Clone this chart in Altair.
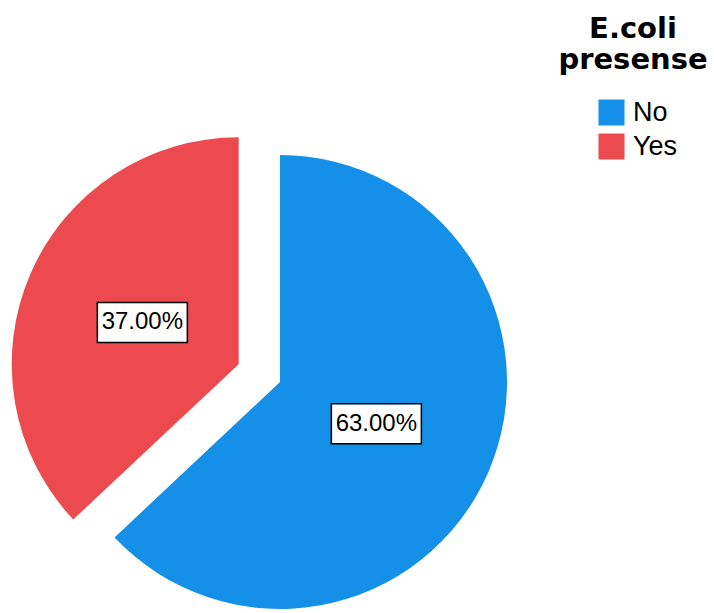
import json
import altair as alt
import pandas as pd

# ---- data ----
categories = ["No", "Yes"]
percents = [63.0, 37.0]
colors = ["#1490e8", "#ec4a4f"]
exploded = ["Yes"]
legend_title = ["E.coli", "presense"]

# ---- layout / style ----
W, H = 714, 613
CX, CY = 280, 382
R = 227
EXPLODE = 45
LABEL_R = 105
BOX_W, BOX_H = 90, 40

df = pd.DataFrame({"cat": categories, "pct": percents})

base = (
    alt.Chart(df)
    .transform_joinaggregate(total="sum(pct)")
    .transform_window(
        cum="sum(pct)",
        sort=[alt.SortField("cat", order="ascending")],
        frame=[None, 0],
    )
    .transform_calculate(
        a1="datum.cum / datum.total * 2 * PI",
        a0="(datum.cum - datum.pct) / datum.total * 2 * PI",
    )
    .transform_calculate(
        mid="(datum.a0 + datum.a1) / 2",
        ex=f"indexof({json.dumps(exploded)}, datum.cat) >= 0 ? {EXPLODE} : 0",
    )
    .transform_calculate(
        cx=f"{CX} + datum.ex * sin(datum.mid)",
        cy=f"{CY} - datum.ex * cos(datum.mid)",
    )
    .transform_calculate(
        lx=f"datum.cx + {LABEL_R} * sin(datum.mid)",
        ly=f"datum.cy - {LABEL_R} * cos(datum.mid)",
        label="format(datum.pct, '.2f') + '%'",
    )
    .transform_calculate(
        bx0=f"datum.lx - {BOX_W / 2}",
        bx1=f"datum.lx + {BOX_W / 2}",
        by0=f"datum.ly - {BOX_H / 2}",
        by1=f"datum.ly + {BOX_H / 2}",
    )
)

arcs = base.mark_arc(radius=R, strokeWidth=0).encode(
    x=alt.X("cx:Q", scale=None, axis=None),
    y=alt.Y("cy:Q", scale=None, axis=None),
    theta=alt.Theta("a0:Q", scale=None),
    theta2="a1:Q",
    color=alt.Color(
        "cat:N",
        scale=alt.Scale(domain=categories, range=colors),
        legend=alt.Legend(
            title=legend_title,
            orient="none",
            legendX=558,
            legendY=15,
            padding=0,
            titleFont="DejaVu Sans",
            titleFontSize=29,
            titleFontWeight="bold",
            titleColor="black",
            titleAlign="center",
            titleAnchor="middle",
            titleLineHeight=31,
            titlePadding=24,
            symbolType="square",
            symbolSize=676,
            symbolStrokeWidth=0,
            symbolOpacity=1,
            symbolOffset=9,
            labelFont="Liberation Sans",
            labelFontSize=27,
            labelColor="black",
            labelOffset=8,
            rowPadding=6,
        ),
    ),
)

boxes = base.mark_rect(fill="white", stroke="black", strokeWidth=1.5).encode(
    x=alt.X("bx0:Q", scale=None, axis=None),
    x2="bx1:Q",
    y=alt.Y("by0:Q", scale=None, axis=None),
    y2="by1:Q",
)

texts = base.mark_text(
    font="Liberation Sans", fontSize=24, color="black", baseline="middle", align="center"
).encode(
    x=alt.X("lx:Q", scale=None, axis=None),
    y=alt.Y("ly:Q", scale=None, axis=None),
    text="label:N",
)

chart = (
    alt.layer(arcs, boxes, texts)
    .properties(width=W, height=H, padding=0, autosize="none", background="white")
    .configure_view(stroke=None)
)

chart.save("out.html", embed_options={"renderer": "svg", "actions": False})
